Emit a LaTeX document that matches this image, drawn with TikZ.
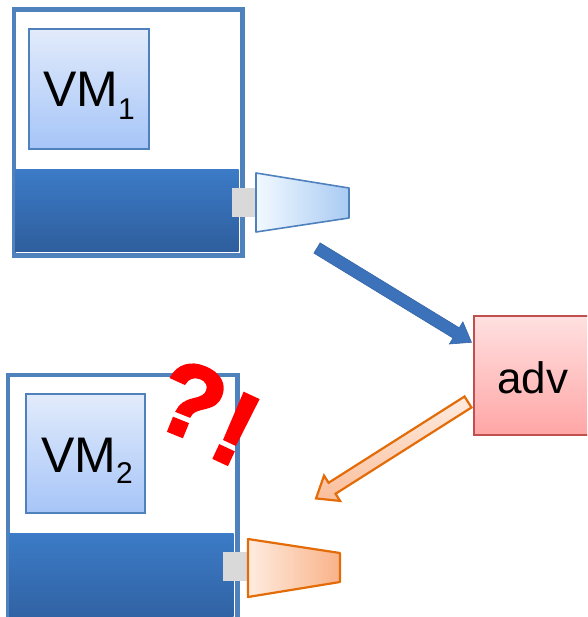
\documentclass[tikz,border=0pt]{standalone}
\usepackage{fontspec}
\setmainfont{Liberation Sans}
\newfontfamily\alarmfont[FakeBold=2.5]{Liberation Sans}
\definecolor{frameblue}{RGB}{79,129,189}
\definecolor{bandtop}{RGB}{60,123,199}
\definecolor{bandbot}{RGB}{46,94,157}
\definecolor{vmtop}{RGB}{226,235,251}
\definecolor{vmbot}{RGB}{166,197,248}
\definecolor{portgray}{RGB}{217,217,217}
\definecolor{nicleft}{RGB}{242,249,255}
\definecolor{nicright}{RGB}{169,203,243}
\definecolor{evilleft}{RGB}{254,236,224}
\definecolor{evilright}{RGB}{249,178,136}
\definecolor{evilline}{RGB}{227,108,9}
\definecolor{advtop}{RGB}{255,224,224}
\definecolor{advbot}{RGB}{255,166,166}
\definecolor{advline}{RGB}{192,80,77}
\definecolor{flowblue}{RGB}{60,114,186}
\definecolor{alarmred}{RGB}{255,0,0}
\tikzset{
  hostframe/.style={draw=frameblue, line width=3pt, fill=white, inner sep=0pt, anchor=north west},
  hostband/.style={inner sep=0pt, anchor=north west, top color=bandtop, bottom color=bandbot},
  vmbox/.style={draw=frameblue, line width=2pt, top color=vmtop, bottom color=vmbot, inner sep=0pt, anchor=north west},
  vmlabel/.style={inner sep=0pt, anchor=base west, font=\fontsize{50}{50}\selectfont},
  port/.style={fill=portgray, inner sep=0pt, anchor=north west},
  goodnic/.style={draw=frameblue, line width=1.6pt, left color=nicleft, right color=nicright, line join=round},
  badnic/.style={draw=evilline, line width=2.2pt, left color=evilleft, right color=evilright, line join=round},
  advbox/.style={draw=advline, line width=2pt, top color=advtop, bottom color=advbot, inner sep=0pt, anchor=north west},
  bluearrow/.style={fill=flowblue, draw=flowblue!90!black, line width=0.6pt, line join=miter},
  orangearrow/.style={draw=evilline, line width=2.2pt, top color=evilleft, bottom color=evilright!85!white, line join=miter},
  alarm/.style={text=alarmred, inner sep=0pt, font=\alarmfont\bfseries\fontsize{104}{104}\selectfont}
}
\newcommand{\vmsub}[2]{VM\raisebox{-#2pt}{\fontsize{30}{30}\selectfont #1}}
\begin{document}
\begin{tikzpicture}[x=1pt, y=-1pt]
\useasboundingbox (0,0) rectangle (587,617);
\clip (0,0) rectangle (587,617);

% first host with its VM and virtual NIC
\node[hostframe, minimum width=227pt, minimum height=244pt] (host1) at (13,9) {};
\node[hostband, minimum width=224pt, minimum height=82.5pt] (band1) at (14.5,169) {};
\draw[frameblue, line width=3pt] (host1.north west) rectangle (host1.south east);
\node[vmbox, minimum width=120pt, minimum height=120pt] (vm1) at (28,28) {};
\node[vmlabel] (vm1label) at (43,107) {\vmsub{1}{13}};
\node[port, minimum width=24pt, minimum height=29pt] (port1) at (232,188) {};
\draw[goodnic] (256,173) coordinate (nic1a) -- (349,188) -- (349,218) -- (256,232) -- cycle;

% second host with its VM and hijacked NIC
\node[hostframe, minimum width=228pt, minimum height=260pt] (host2) at (7,374) {};
\node[hostband, minimum width=225pt, minimum height=100pt] (band2) at (8.5,533) {};
\draw[frameblue, line width=3pt] (host2.north west) rectangle (host2.south east);
\node[vmbox, minimum width=119pt, minimum height=119pt] (vm2) at (25,393) {};
\node[vmlabel] (vm2label) at (41,472) {\vmsub{2}{11}};
\node[port, minimum width=25pt, minimum height=29pt] (port2) at (223,552) {};
\draw[badnic] (248,539) coordinate (nic2a) -- (340,553) -- (340,582) -- (248,597) -- cycle;

% adversary
\node[advbox, minimum width=140pt, minimum height=119pt] (adv) at (473,315) {};
\node[inner sep=0pt, anchor=base west, font=\fontsize{44}{44}\selectfont] (advlabel) at (497,393) {adv};

% traffic flows
\coordinate (flow1tail) at (317,248);
\coordinate (flow2tail) at (468,402);
\begin{scope}[shift={(flow1tail)}, rotate=-31.4]
  \draw[bluearrow] (0,-6) -- (163,-6) -- (163,-13) -- (181,0) -- (163,13) -- (163,6) -- (0,6) -- cycle;
\end{scope}
\begin{scope}[shift={(flow2tail)}, rotate=212.4]
  \draw[orangearrow] (0,-6.5) -- (161,-6.5) -- (161,-15) -- (180,0) -- (161,15) -- (161,6.5) -- (0,6.5) -- cycle;
\end{scope}

% confusion marks
\node[alarm, rotate=-22] (qmark) at (191,401) {?};
\node[alarm, rotate=-25] (bang) at (236,429) {!};
\end{tikzpicture}
\end{document}
